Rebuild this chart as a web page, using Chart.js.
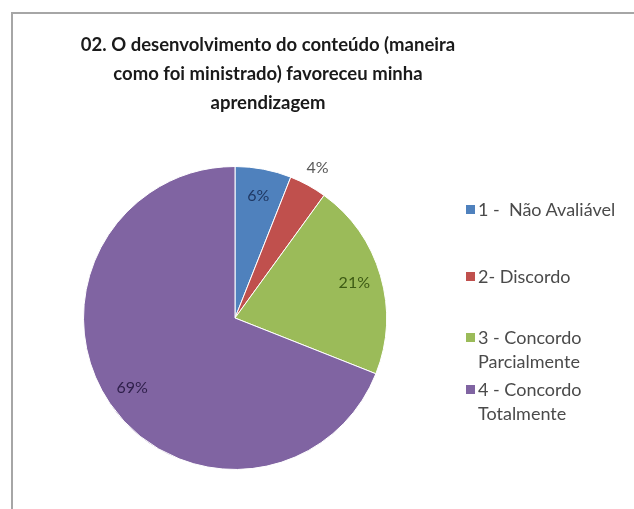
<!DOCTYPE html>
<html>
<head>
<meta charset="utf-8">
<script src="https://cdn.jsdelivr.net/npm/chart.js@4.4.0/dist/chart.umd.min.js"></script>
<style>
  body { margin: 0; background: #fff; font-family: Lato, "Open Sans", sans-serif; }
  #wrap { position: relative; width: 634px; height: 509px; overflow: hidden; }
  #frame { position: absolute; left: 11px; top: 12px; width: 640px; height: 520px;
           border: 2px solid #a6a6a6; box-sizing: border-box; }
  #title { position: absolute; left: 60px; width: 416px; top: 30px; text-align: center;
           font-weight: bold; font-size: 18.5px; line-height: 29px; color: #1a1a1a; }
  #legend { position: absolute; left: 466px; top: 197px; font-size: 18px; color: #4a4a4a; }
  .item { position: absolute; left: 0; width: 170px; line-height: 24px; padding-left: 12px; white-space: pre; }
  .box { position: absolute; left: 0; top: 8px; width: 9px; height: 9px; }
  canvas { position: absolute; left: 0; top: 0; }
</style>
</head>
<body>
<div id="wrap">
  <div id="frame"></div>
  <canvas id="chart" width="634" height="509"></canvas>
  <div id="title"></div>
  <div id="legend"></div>
</div>
<script>
var titleLines = ['02. O desenvolvimento do conteúdo (maneira', 'como foi ministrado) favoreceu minha', 'aprendizagem'];
var labels = ['1 -  Não Avaliável', '2- Discordo', '3 - Concordo Parcialmente', '4 - Concordo Totalmente'];
var legendLines = [['1 -  Não Avaliável'], ['2- Discordo'], ['3 - Concordo', 'Parcialmente'], ['4 - Concordo', 'Totalmente']];
var values = [6, 4, 21, 69];
var colors = ['#4f81bd', '#c0504d', '#9bbb59', '#8064a2'];
var labelColors = ['#1f3864', '#595959', '#3d5a14', '#2e1f4a'];

document.getElementById('title').innerHTML = titleLines.join('<br>');

var legendTops = [0, 67, 128, 180];
var legendHtml = '';
legendLines.forEach(function (lines, i) {
    legendHtml += `<div class="item" style="top:${legendTops[i]}px"><span class="box" style="background:${colors[i]}"></span>${lines.join('\n')}</div>`;
});
document.getElementById('legend').innerHTML = legendHtml;

// percent labels, the small one (4%) goes outside the slice
var pctLabels = {
    id: 'pctLabels',
    afterDatasetsDraw: function (chart) {
        var ctx = chart.ctx;
        var meta = chart.getDatasetMeta(0);
        ctx.save();
        ctx.font = '16px Lato, "Open Sans", sans-serif';
        ctx.textAlign = 'center';
        ctx.textBaseline = 'middle';
        meta.data.forEach(function (arc, i) {
            var p = arc.getProps(['x', 'y', 'startAngle', 'endAngle', 'outerRadius'], true);
            var mid = (p.startAngle + p.endAngle) / 2;
            var r = values[i] < 5 ? p.outerRadius + 20 : p.outerRadius * 0.82;
            ctx.fillStyle = labelColors[i];
            ctx.fillText(values[i] + '%', p.x + Math.cos(mid) * r, p.y + Math.sin(mid) * r);
        });
        ctx.restore();
    }
};

new Chart(document.getElementById('chart'), {
    type: 'pie',
    data: {
        labels: labels,
        datasets: [{
            data: values,
            backgroundColor: colors,
            borderColor: '#ffffff',
            borderWidth: 1
        }]
    },
    options: {
        responsive: false,
        animation: false,
        layout: { padding: { left: 83, right: 247, top: 166, bottom: 39 } },
        plugins: {
            legend: { display: false },
            tooltip: { enabled: false }
        }
    },
    plugins: [pctLabels]
});
</script>
</body>
</html>
